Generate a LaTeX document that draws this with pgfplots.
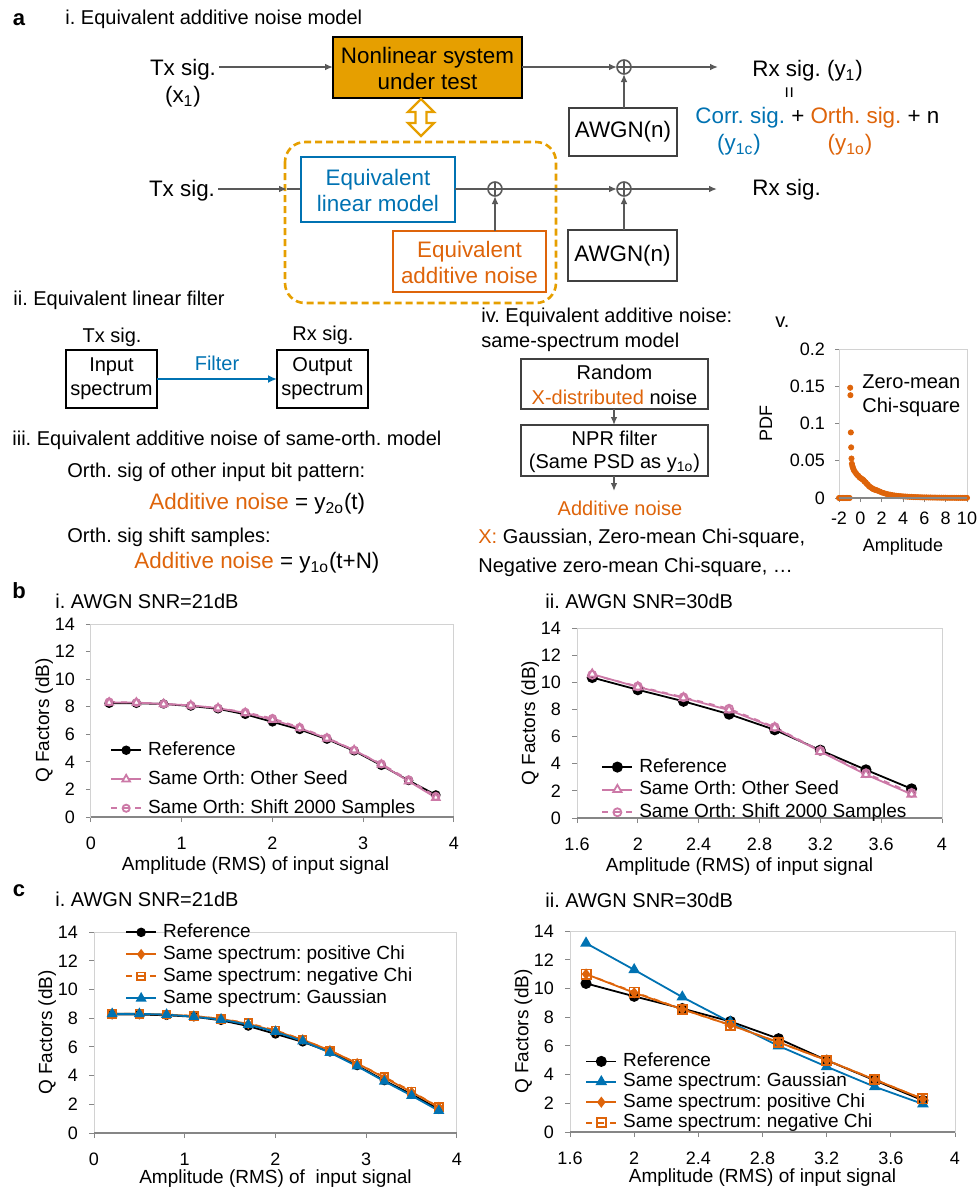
\documentclass[border=0pt]{standalone}
\usepackage{fontspec}
\setmainfont{Liberation Sans}
\usepackage{pgfplots}
\usepackage{pgfplotstable}
\pgfplotsset{compat=1.18}
\usetikzlibrary{arrows.meta}
\definecolor{nlor}{RGB}{230,159,0}
\definecolor{cbl}{RGB}{0,114,178}
\definecolor{cor}{RGB}{222,100,10}
\definecolor{cpk}{RGB}{204,121,167}
\definecolor{agr}{RGB}{89,89,89}
\definecolor{bgr}{RGB}{64,64,64}
\definecolor{lgr}{RGB}{210,210,210}
\definecolor{tgr}{RGB}{134,134,134}
\newcommand{\fbig}{\fontsize{11.2}{13}\selectfont}
\newcommand{\fmid}{\fontsize{10}{12}\selectfont}
\newcommand{\flet}{\fontsize{11}{12}\selectfont\bfseries}
\frenchspacing
\pgfplotsset{
  qstyle/.style={
    scale only axis, clip=false,
    ymin=0, ymax=14, ytick={0,2,...,14},
    axis line style={draw=lgr, line width=0.5pt},
    tick style={draw=tgr, line width=0.5pt},
    tick align=outside, xtick pos=bottom, ytick pos=left,
    major tick length=2.5pt,
    tick label style={font=\fontsize{9}{10}\selectfont},
    xticklabel style={yshift=-4pt},
    yticklabel style={xshift=-2pt},
    /pgf/number format/assume math mode=true,
    label style={font=\fontsize{9.5}{11}\selectfont},
    xlabel style={yshift=3.5pt},
    ylabel shift=-6pt,
    xlabel={Amplitude (RMS) of input signal},
    ylabel={Q Factors (dB)},
    every axis plot/.append style={line width=0.9pt},
    legend cell align=left,
    legend style={draw=none, fill=none, inner sep=0pt, font=\fontsize{9.5}{11}\selectfont,
      nodes={inner sep=1pt, text height=7pt, text depth=2pt}, anchor=north west,
      /tikz/every odd column/.append style={column sep=2pt}},
    legend image code/.code={\draw[mark repeat=2,mark phase=2,##1] plot coordinates {(0pt,0pt) (7.5pt,0pt) (15pt,0pt)};},
    after end axis/.code={\draw[tgr, line width=0.6pt] (rel axis cs:0,0) -- (rel axis cs:1,0);},
  },
  refst/.style={black, mark=*, mark size=#1},
}
\pgfplotstableread{
x ref seed shift
0.2 8.25 8.30 8.35
0.5 8.25 8.30 8.30
0.8 8.20 8.20 8.20
1.1 8.05 8.10 8.10
1.4 7.85 7.90 7.90
1.7 7.45 7.55 7.60
2.0 6.90 7.05 7.15
2.3 6.35 6.45 6.50
2.6 5.65 5.70 5.75
2.9 4.80 4.85 4.85
3.2 3.75 3.80 3.85
3.5 2.65 2.60 2.70
3.8 1.60 1.40 1.50
}\tbi
\pgfplotstableread{
x ref seed shift
1.7 10.35 10.60 10.55
2.0 9.45 9.65 9.70
2.3 8.60 8.85 8.90
2.6 7.65 7.95 8.05
2.9 6.50 6.65 6.70
3.2 5.00 4.90 4.95
3.5 3.55 3.20 3.30
3.8 2.15 1.75 1.85
}\tbii
\pgfplotstableread{
x ref pos neg gau
0.2 8.25 8.30 8.30 8.30
0.5 8.25 8.30 8.30 8.30
0.8 8.20 8.25 8.25 8.25
1.1 8.10 8.15 8.15 8.10
1.4 7.85 7.95 7.95 7.90
1.7 7.45 7.60 7.65 7.55
2.0 6.90 7.10 7.15 7.05
2.3 6.35 6.50 6.50 6.40
2.6 5.65 5.75 5.75 5.60
2.9 4.70 4.85 4.85 4.65
3.2 3.65 3.85 3.90 3.60
3.5 2.70 2.85 2.90 2.60
3.8 1.65 1.80 1.80 1.55
}\tci
\pgfplotstableread{
x ref gau pos neg
1.7 10.35 13.15 11.00 11.00
2.0 9.45 11.30 9.70 9.75
2.3 8.60 9.40 8.55 8.55
2.6 7.70 7.65 7.45 7.45
2.9 6.50 6.00 6.25 6.25
3.2 5.00 4.55 5.00 5.00
3.5 3.60 3.15 3.65 3.65
3.8 2.20 1.95 2.30 2.30
}\tcii
\pgfplotstableread{
x y
-2.0 0
-1.9 0
-1.8 0
-1.7 0
-1.6 0
-1.5 0
-1.4 0
-1.3 0
-1.2 0
-1.1 0
-1.0 0
-0.95 0.148
-0.93 0.138
-0.89 0.088
-0.86 0.068
-0.83 0.053
-0.79 0.046
-0.75 0.043
-0.70 0.041
-0.65 0.039
-0.60 0.037
-0.50 0.035
-0.40 0.033
-0.30 0.031
-0.20 0.030
-0.10 0.028
0.0 0.027
0.1 0.026
0.2 0.025
0.3 0.024
0.4 0.022
0.5 0.021
0.6 0.019
0.7 0.018
0.8 0.016
0.9 0.015
1.0 0.014
1.1 0.013
1.2 0.012
1.3 0.0115
1.4 0.011
1.5 0.0105
1.6 0.010
1.8 0.0088
2.0 0.0075
2.2 0.0066
2.4 0.0057
2.6 0.0050
2.8 0.0044
3.0 0.0038
3.2 0.0034
3.4 0.0030
3.6 0.0027
3.8 0.0024
4.0 0.0022
4.2 0.0020
4.4 0.0018
4.6 0.0016
4.8 0.0015
5.0 0.0013
5.2 0.0012
5.4 0.0011
5.6 0.0010
5.8 0.0009
6.0 0.0008
6.2 0.0008
6.4 0.0007
6.6 0.0007
6.8 0.0006
7.0 0.0006
7.2 0.0005
7.4 0.0005
7.6 0.0004
7.8 0.0004
8.0 0.0004
8.2 0.0003
8.4 0.0003
8.6 0.0003
8.8 0.0003
9.0 0.0002
9.2 0.0002
9.4 0.0002
9.6 0.0002
9.8 0.0002
10.0 0.0002
}\tpdf
\begin{document}
\begin{tikzpicture}
\begin{scope}[x=0.5pt,y=-0.5pt,
  arr/.style={draw=agr, line width=0.8pt, -{Latex[length=4pt,width=3.4pt]}},
  ln/.style={draw=agr, line width=0.8pt}]
% ---------- panel a ----------
\node at (19,20) {\flet a};
\node[anchor=west, inner sep=0] at (65,19) {\fmid i. Equivalent additive noise model};
% row 1
\draw[fill=nlor, draw=black, line width=1.2pt] (333,37) rectangle (522,98);
\node[align=center, font=\fbig] at (427.5,68) {Nonlinear system\\under test};
\node[font=\fbig] at (183,70) {Tx sig.};
\node[font=\fbig] at (183,97) {(x\textsubscript{1})};
\draw[arr] (219,67) -- (333,67);
\draw[arr] (522,67) -- (617,67);
\draw[ln] (624,67) circle[radius=7] (617,67) -- (631,67) (624,60) -- (624,74);
\draw[arr] (631,67) -- (718,67);
\draw[draw=bgr, line width=1.3pt] (569,108) rectangle (677,156);
\node[font=\fbig] at (623,132) {AWGN(n)};
\draw[arr] (624,108) -- (624,74);
\node[anchor=west, inner sep=0, font=\fbig] at (752,71) {Rx sig. (y\textsubscript{1})};
\node[rotate=90, font=\fmid] at (791,93) {=};
\node[anchor=west, inner sep=0, font=\fbig] at (695,118) {\textcolor{cbl}{Corr. sig.} + \textcolor{cor}{Orth. sig.} + n};
\node[font=\fbig, text=cbl] at (739,145) {(y\textsubscript{1c})};
\node[font=\fbig, text=cor] at (850,145) {(y\textsubscript{1o})};
% double arrow
\draw[nlor, line width=1.2pt, line join=miter] (421,99) -- (434,112) -- (426.5,112) -- (426.5,123) -- (434,123) -- (421,136) -- (408,123) -- (415.5,123) -- (415.5,112) -- (408,112) -- cycle;
% dashed box
\draw[nlor, line width=1.3pt, dash pattern=on 3.5pt off 2pt, rounded corners=10pt] (285,142) rectangle (556,303);
% row 2
\node[font=\fbig] at (182,191) {Tx sig.};
\draw[arr] (218,189) -- (287,189);
\draw[ln] (287,189) -- (301,189);
\draw[draw=cbl, line width=1.3pt] (301,157) rectangle (455,222);
\node[align=center, font=\fbig, text=cbl] at (378,190) {Equivalent\\linear model};
\draw[ln] (455,189) -- (488,189);
\draw[ln] (495,189) circle[radius=7] (488,189) -- (502,189) (495,182) -- (495,196);
\draw[arr] (502,189) -- (617,189);
\draw[draw=cor, line width=1.3pt] (393,231) rectangle (546,292);
\node[align=center, font=\fbig, text=cor] at (469.5,262) {Equivalent\\additive noise};
\draw[arr] (495,231) -- (495,196);
\draw[ln] (624,189) circle[radius=7] (617,189) -- (631,189) (624,182) -- (624,196);
\draw[draw=bgr, line width=1.3pt] (568,230) rectangle (677,281);
\node[font=\fbig] at (622.5,256) {AWGN(n)};
\draw[arr] (624,230) -- (624,196);
\draw[arr] (631,189) -- (717,189);
\node[anchor=west, inner sep=0, font=\fbig] at (752,190) {Rx sig.};
% ii
\node[anchor=west, inner sep=0, font=\fmid] at (13,300) {ii. Equivalent linear filter};
\node[font=\fmid] at (112,337) {Tx sig.};
\draw[black, line width=1pt] (66,350) rectangle (157,408);
\node[align=center, font=\fmid] at (111.5,379) {Input\\spectrum};
\draw[cbl, line width=1.3pt, -{Latex[length=4.5pt,width=4pt]}] (157,379) -- (277,379);
\node[font=\fmid, text=cbl] at (217,363) {Filter};
\draw[black, line width=1pt] (277,350) rectangle (368,408);
\node[align=center, font=\fmid] at (322.5,379) {Output\\spectrum};
\node[font=\fmid] at (323,335) {Rx sig.};
% iii
\node[anchor=west, inner sep=0, font=\fmid] at (12,440) {iii. Equivalent additive noise of same-orth. model};
\node[anchor=west, inner sep=0, font=\fmid] at (67,472) {Orth. sig of other input bit pattern:};
\node[anchor=west, inner sep=0, font=\fbig] at (149,504) {\textcolor{cor}{Additive noise} = y\textsubscript{2o}(t)};
\node[anchor=west, inner sep=0, font=\fmid] at (67,537) {Orth. sig shift samples:};
\node[anchor=west, inner sep=0, font=\fbig] at (134,563) {\textcolor{cor}{Additive noise} = y\textsubscript{1o}(t+N)};
% iv
\node[anchor=west, inner sep=0, font=\fmid] at (481,317) {iv. Equivalent additive noise:};
\node[anchor=west, inner sep=0, font=\fmid] at (481,342) {same-spectrum model};
\draw[draw=bgr, line width=1pt] (521,359) rectangle (708,409);
\node[font=\fmid] at (614.5,372) {Random};
\node[font=\fmid] at (614.5,397) {\textcolor{cor}{X-distributed} noise};
\draw[arr] (614,409) -- (614,425);
\draw[draw=bgr, line width=1pt] (521,425) rectangle (708,476);
\node[font=\fmid] at (614.5,438) {NPR filter};
\node[font=\fmid] at (614.5,463) {(Same PSD as y\textsubscript{1o})};
\draw[arr] (614,476) -- (614,491);
\node[font=\fmid, text=cor] at (620,508) {Additive noise};
\node[anchor=west, inner sep=0, font=\fmid] at (478,538) {\textcolor{cor}{X:} Gaussian, Zero-mean Chi-square,};
\node[anchor=west, inner sep=0, font=\fmid] at (478,567) {Negative zero-mean Chi-square, …};
% v
\node[anchor=west, inner sep=0, font=\fmid] at (775,322) {v.};
\node[anchor=west, inner sep=0, font=\fmid, align=left] at (862,396) {Zero-mean\\Chi-square};
% ---------- panel b, c titles ----------
\node at (19,591) {\flet b};
\node[anchor=west, inner sep=0, font=\fmid] at (55,601) {i. AWGN SNR=21dB};
\node[anchor=west, inner sep=0, font=\fmid] at (545,601) {ii. AWGN SNR=30dB};
\node at (19,891) {\flet c};
\node[anchor=west, inner sep=0, font=\fmid] at (55,899) {i. AWGN SNR=21dB};
\node[anchor=west, inner sep=0, font=\fmid] at (545,900) {ii. AWGN SNR=30dB};
\end{scope}

% ---------- PDF plot ----------
\begin{axis}[scale only axis, clip=false,
  at={(419.5pt,-249pt)}, anchor=south west, width=64pt, height=74.5pt,
  xmin=-2, xmax=10, ymin=0, ymax=0.2,
  xtick={-2,0,2,4,6,8,10}, ytick={0,0.05,0.1,0.15,0.2},
  yticklabels={0,0.05,0.1,0.15,0.2},
  axis line style={draw=lgr, line width=0.5pt},
  tick style={draw=tgr, line width=0.5pt},
  tick align=outside, xtick pos=bottom, ytick pos=left, major tick length=2pt,
  tick label style={font=\fontsize{9}{10}\selectfont},
  xticklabel style={yshift=-1.5pt},
  yticklabel style={xshift=-1.5pt},
  /pgf/number format/assume math mode=true,
  label style={font=\fontsize{9}{11}\selectfont},
  ylabel shift=2pt,
  xlabel={Amplitude}, ylabel={PDF},
  after end axis/.code={\draw[tgr, line width=0.6pt] (rel axis cs:0,0) -- (rel axis cs:1,0);},
]
\addplot[only marks, mark=*, mark size=1.3pt, color=cor] table[x=x,y=y] {\tpdf};
\end{axis}

% ---------- b.i ----------
\begin{axis}[qstyle, at={(45.5pt,-408.5pt)}, anchor=south west, width=181.5pt, height=96.5pt,
  xmin=0, xmax=4, xtick={0,1,2,3,4},
  xlabel style={xshift=-8.5pt},
  legend style={at={(axis description cs:0.052,0.405)}, row sep=3.5pt}]
\addplot[refst=1.9pt] table[x=x,y=ref] {\tbi};
\addlegendentry{Reference}
\addplot[cpk, mark=triangle*, mark options={fill=white}, mark size=2.2pt] table[x=x,y=seed] {\tbi};
\addlegendentry{Same Orth: Other Seed}
\addplot[cpk, dashed, mark=o, mark options={solid}, mark size=1.8pt] table[x=x,y=shift] {\tbi};
\addlegendentry{Same Orth: Shift 2000 Samples}
\end{axis}

% ---------- b.ii ----------
\begin{axis}[qstyle, at={(288.5pt,-409pt)}, anchor=south west, width=182.5pt, height=95pt,
  xmin=1.6, xmax=4, xtick={1.6,2,2.4,2.8,3.2,3.6,4},
  xlabel style={xshift=-10pt},
  legend style={at={(axis description cs:0.066,0.328)}, row sep=0.3pt}]
\addplot[refst=2.3pt] table[x=x,y=ref] {\tbii};
\addlegendentry{Reference}
\addplot[cpk, mark=triangle*, mark options={fill=white}, mark size=2.4pt] table[x=x,y=seed] {\tbii};
\addlegendentry{Same Orth: Other Seed}
\addplot[cpk, dashed, mark=o, mark options={solid}, mark size=2pt] table[x=x,y=shift] {\tbii};
\addlegendentry{Same Orth: Shift 2000 Samples}
\end{axis}

% ---------- c.i ----------
\begin{axis}[qstyle, at={(47pt,-566.5pt)}, anchor=south west, width=181.5pt, height=100.5pt,
  xmin=0, xmax=4, xtick={0,1,2,3,4},
  xlabel={Amplitude (RMS) of \ input signal},
  xlabel style={yshift=1.2pt},
  legend style={at={(axis description cs:0.085,1.055)}, row sep=0pt}]
\addplot[refst=1.9pt] table[x=x,y=ref] {\tci};
\addlegendentry{Reference}
\addplot[cor, mark=diamond*, mark size=2pt] table[x=x,y=pos] {\tci};
\addlegendentry{Same spectrum: positive Chi}
\addplot[cor, dashed, mark=square, mark options={solid, fill=white}, mark size=1.9pt] table[x=x,y=neg] {\tci};
\addlegendentry{Same spectrum: negative Chi}
\addplot[cbl, mark=triangle*, mark size=2.3pt] table[x=x,y=gau] {\tci};
\addlegendentry{Same spectrum: Gaussian}
\end{axis}

% ---------- c.ii ----------
\begin{axis}[qstyle, at={(285pt,-566pt)}, anchor=south west, width=192.5pt, height=100.5pt,
  xmin=1.6, xmax=4, xtick={1.6,2,2.4,2.8,3.2,3.6,4},
  xlabel style={yshift=1.2pt},
  legend style={at={(axis description cs:0.039,0.408)}, row sep=-0.8pt}]
\addplot[refst=2.3pt] table[x=x,y=ref] {\tcii};
\addlegendentry{Reference}
\addplot[cbl, mark=triangle*, mark size=2.5pt] table[x=x,y=gau] {\tcii};
\addlegendentry{Same spectrum: Gaussian}
\addplot[cor, mark=diamond*, mark size=2.1pt] table[x=x,y=pos] {\tcii};
\addlegendentry{Same spectrum: positive Chi}
\addplot[cor, dashed, mark=square, mark options={solid, fill=white}, mark size=2.3pt] table[x=x,y=neg] {\tcii};
\addlegendentry{Same spectrum: negative Chi}
\end{axis}
\pgfresetboundingbox
\path[use as bounding box] (0pt,0pt) rectangle (488pt,-595pt);
\end{tikzpicture}
\end{document}
